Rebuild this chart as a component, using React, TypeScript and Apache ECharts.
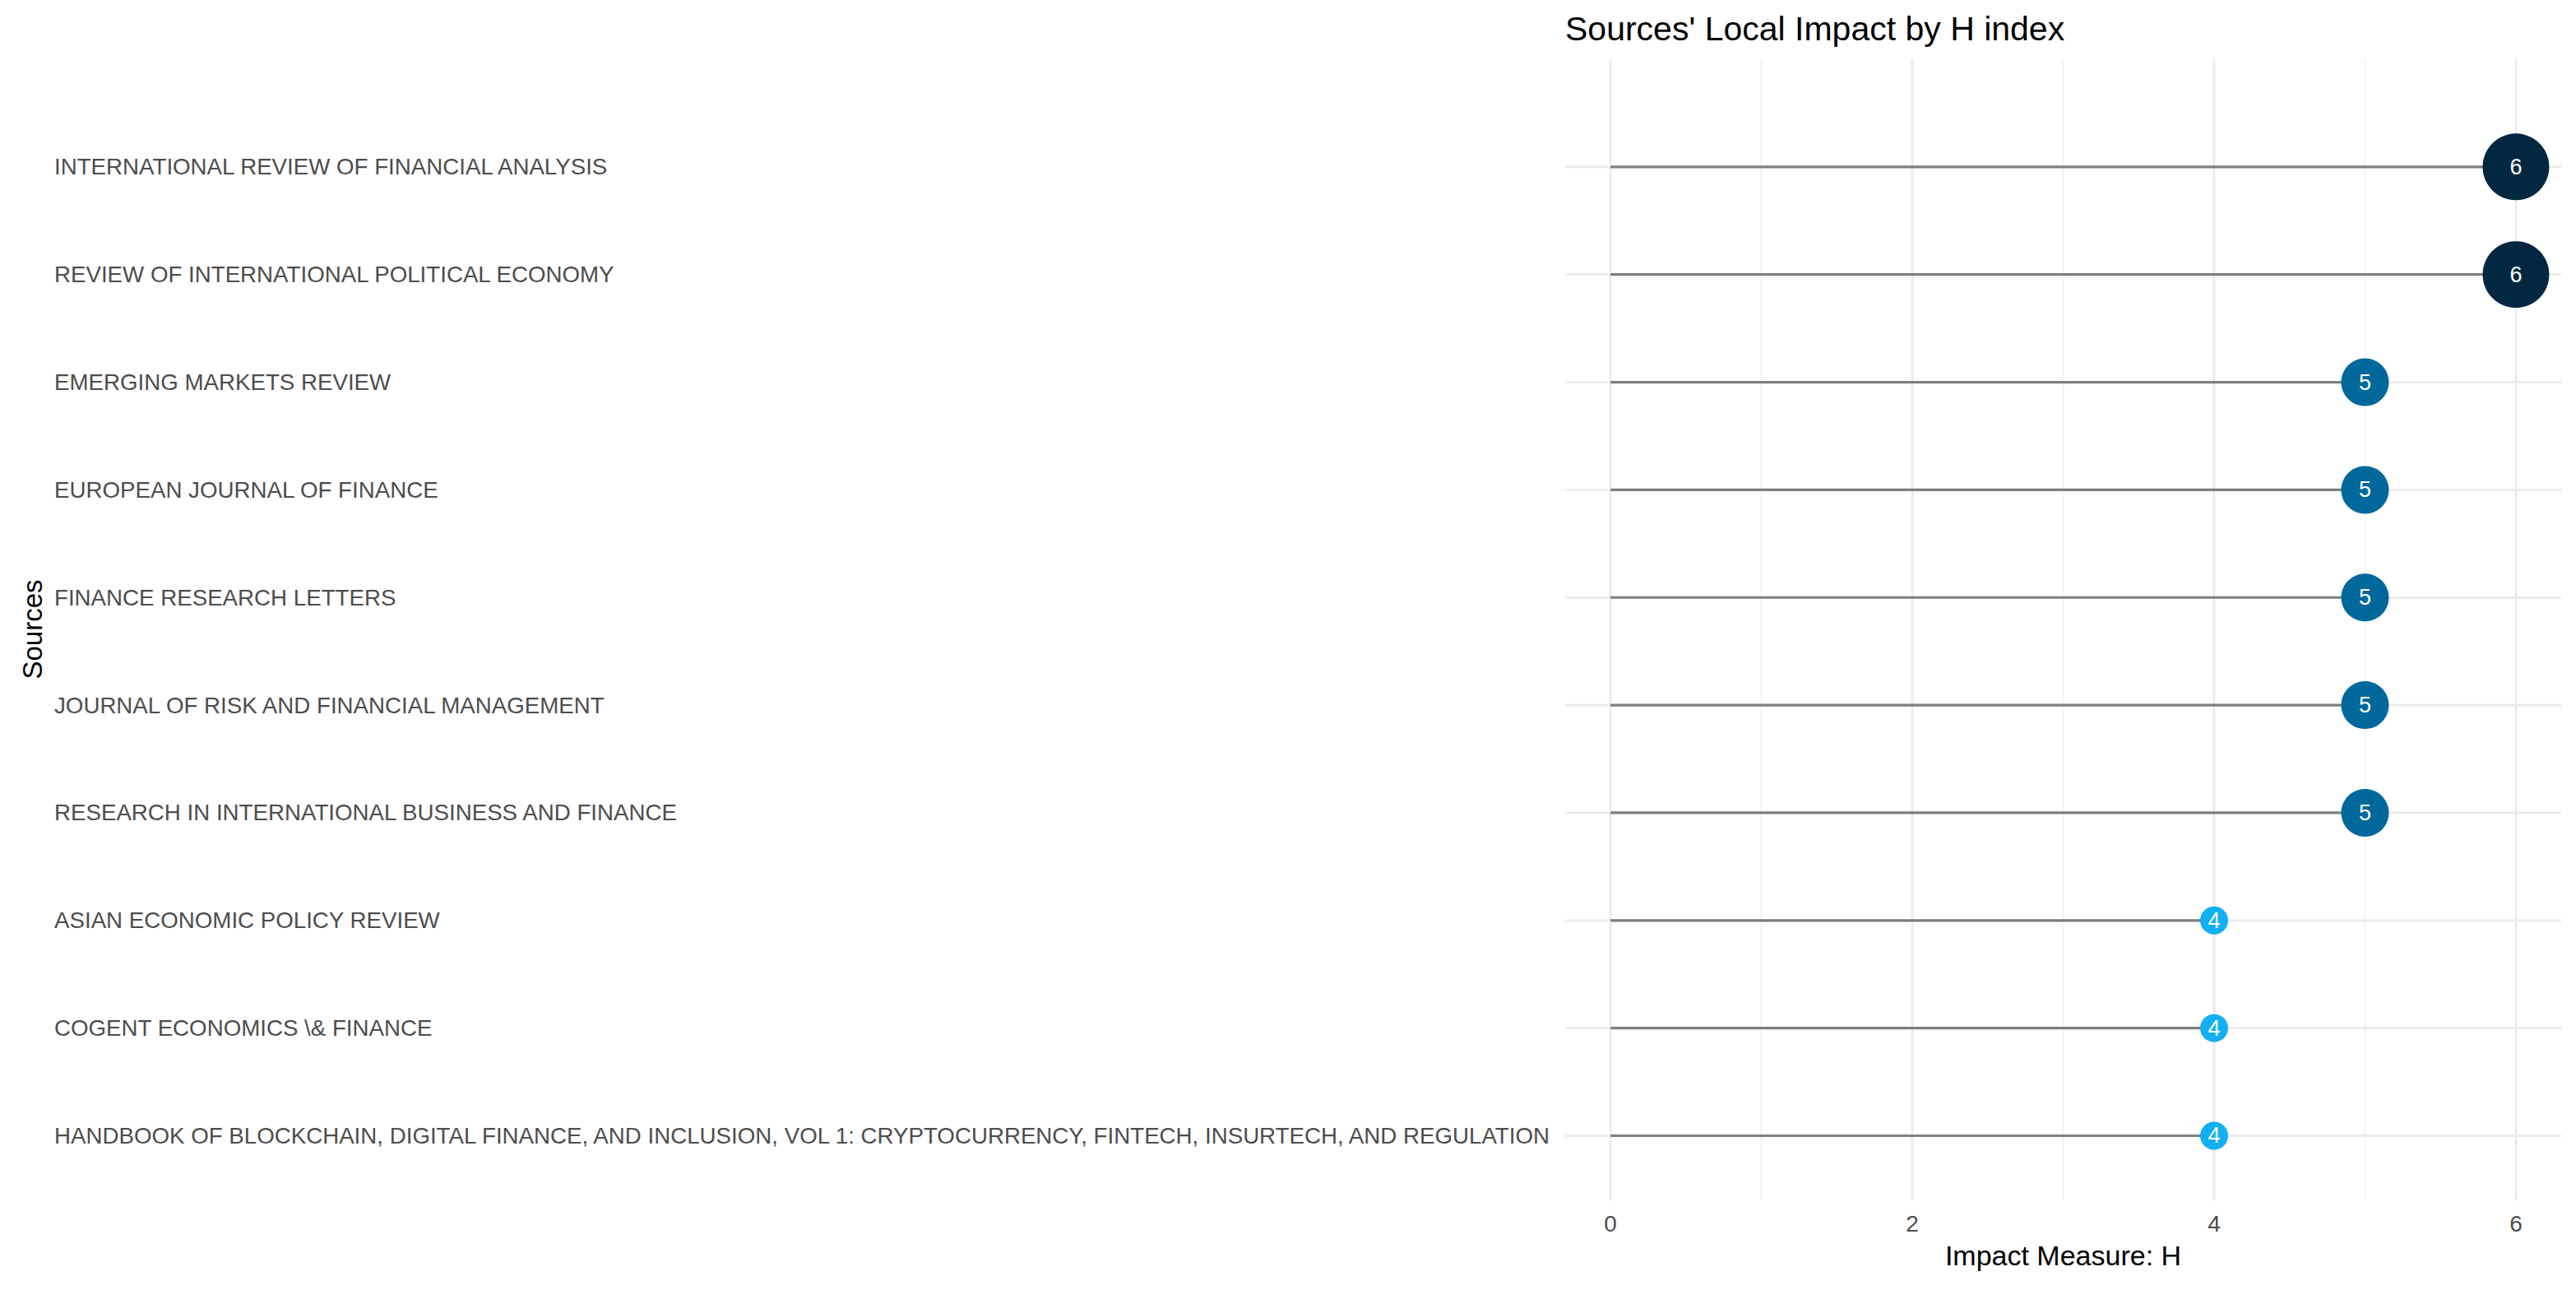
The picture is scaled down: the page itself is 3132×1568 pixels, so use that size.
import React, { useEffect, useRef } from "react";
import * as echarts from "echarts";

const sources = [
  "INTERNATIONAL REVIEW OF FINANCIAL ANALYSIS",
  "REVIEW OF INTERNATIONAL POLITICAL ECONOMY",
  "EMERGING MARKETS REVIEW",
  "EUROPEAN JOURNAL OF FINANCE",
  "FINANCE RESEARCH LETTERS",
  "JOURNAL OF RISK AND FINANCIAL MANAGEMENT",
  "RESEARCH IN INTERNATIONAL BUSINESS AND FINANCE",
  "ASIAN ECONOMIC POLICY REVIEW",
  "COGENT ECONOMICS \\& FINANCE",
  "HANDBOOK OF BLOCKCHAIN, DIGITAL FINANCE, AND INCLUSION, VOL 1: CRYPTOCURRENCY, FINTECH, INSURTECH, AND REGULATION",
];
const hIndex = [6, 6, 5, 5, 5, 5, 5, 4, 4, 4];
const xTickLabels = [0, 2, 4, 6];
const xGridMajor = [0, 2, 4, 6];
const xGridMinor = [1, 3, 5];

const X_MIN = -0.3;
const X_MAX = 6.3;
const Y_MIN = -1;
const Y_MAX = 9.6;

const FONT = "'Liberation Sans', Arial, sans-serif";
const colorByH: Record<number, string> = { 4: "#12B0F0", 5: "#01689B", 6: "#012840" };
const sizeByH: Record<number, number> = { 4: 34, 5: 58, 6: 81 };

export default function App() {
  const ref = useRef<HTMLDivElement>(null);
  useEffect(() => {
    if (!ref.current) return;
    const chart = echarts.init(ref.current, null, { renderer: "svg" });

    const vLine = (color: string, width: number) => (params: any, api: any) => {
      const v = api.value(0);
      const s = api.coord([v, Y_MIN]);
      const e = api.coord([v, Y_MAX]);
      return {
        type: "line",
        shape: { x1: s[0], y1: s[1], x2: e[0], y2: e[1] },
        style: { stroke: color, lineWidth: width },
      };
    };

    const option: any = {
      animation: false,
      backgroundColor: "#ffffff",
      title: {
        text: "Sources' Local Impact by H index",
        left: 1898,
        top: 9,
        textStyle: { fontFamily: FONT, fontSize: 41, fontWeight: "normal", color: "#000000" },
      },
      grid: { left: 1903, top: 72, width: 1211, height: 1387, containLabel: false },
      xAxis: {
        type: "value",
        min: X_MIN,
        max: X_MAX,
        name: "Impact Measure: H",
        nameLocation: "middle",
        nameGap: 50,
        nameTextStyle: { fontFamily: FONT, fontSize: 34, color: "#000000" },
        axisLine: { show: false },
        axisTick: { show: false, customValues: xTickLabels },
        splitLine: { show: false },
        axisLabel: {
          customValues: xTickLabels,
          fontFamily: FONT,
          fontSize: 28,
          color: "#4D4D4D",
          margin: 14,
          formatter: (v: number) => String(v),
        },
      },
      yAxis: {
        type: "value",
        inverse: true,
        min: Y_MIN,
        max: Y_MAX,
        interval: 1,
        axisLine: { show: false },
        axisTick: { show: false },
        splitLine: { show: false },
        axisLabel: {
          fontFamily: FONT,
          fontSize: 27.7,
          color: "#4D4D4D",
          align: "left",
          margin: 1903 - 66,
          showMinLabel: true,
          showMaxLabel: true,
          formatter: (v: number) => (Number.isInteger(v) && sources[v] !== undefined ? sources[v] : ""),
        },
      },
      graphic: [
        {
          type: "text",
          x: 39,
          y: 765,
          rotation: Math.PI / 2,
          style: {
            text: "Sources",
            fontFamily: FONT,
            fontSize: 33,
            fill: "#000000",
            align: "center",
            verticalAlign: "middle",
          },
        },
      ],
      series: [
        {
          type: "custom",
          name: "gridMinor",
          silent: true,
          z: 1,
          data: xGridMinor.map((v) => [v, 0]),
          encode: { x: 0, y: 1 },
          renderItem: vLine("#F0F0F0", 1.5),
        },
        {
          type: "custom",
          name: "gridMajor",
          silent: true,
          z: 1,
          data: xGridMajor.map((v) => [v, 0]),
          encode: { x: 0, y: 1 },
          renderItem: vLine("#EBEBEB", 2.8),
        },
        {
          type: "custom",
          name: "gridRows",
          silent: true,
          z: 1,
          data: sources.map((_, i) => [0, i]),
          encode: { x: 0, y: 1 },
          renderItem: (params: any, api: any) => {
            const i = api.value(1);
            const s = api.coord([X_MIN, i]);
            const e = api.coord([X_MAX, i]);
            return {
              type: "line",
              shape: { x1: s[0], y1: s[1], x2: e[0], y2: e[1] },
              style: { stroke: "#EBEBEB", lineWidth: 2.8 },
            };
          },
        },
        {
          type: "custom",
          name: "segments",
          silent: true,
          z: 2,
          data: hIndex.map((v, i) => [v, i]),
          encode: { x: 0, y: 1 },
          renderItem: (params: any, api: any) => {
            const v = api.value(0);
            const i = api.value(1);
            const s = api.coord([0, i]);
            const e = api.coord([v, i]);
            return {
              type: "line",
              shape: { x1: s[0], y1: s[1], x2: e[0], y2: e[1] },
              style: { stroke: "#7F7F7F", lineWidth: 3.2 },
            };
          },
        },
        {
          type: "scatter",
          name: "H index",
          z: 3,
          data: hIndex.map((v, i) => [v, i]),
          symbol: "circle",
          symbolSize: (val: number[]) => sizeByH[val[0]] ?? 40,
          itemStyle: {
            opacity: 1,
            color: (p: any) => colorByH[p.value[0]] ?? "#01689B",
          },
          label: {
            show: true,
            position: "inside",
            formatter: (p: any) => String(p.value[0]),
            color: "#FFFFFF",
            fontFamily: FONT,
            fontSize: 27,
          },
        },
      ],
    };
    chart.setOption(option);
    return () => chart.dispose();
  }, []);
  return (
    <div
      ref={ref}
      style={{ position: "fixed", left: 0, top: 0, width: 3132, height: 1568, background: "#fff" }}
    />
  );
}
